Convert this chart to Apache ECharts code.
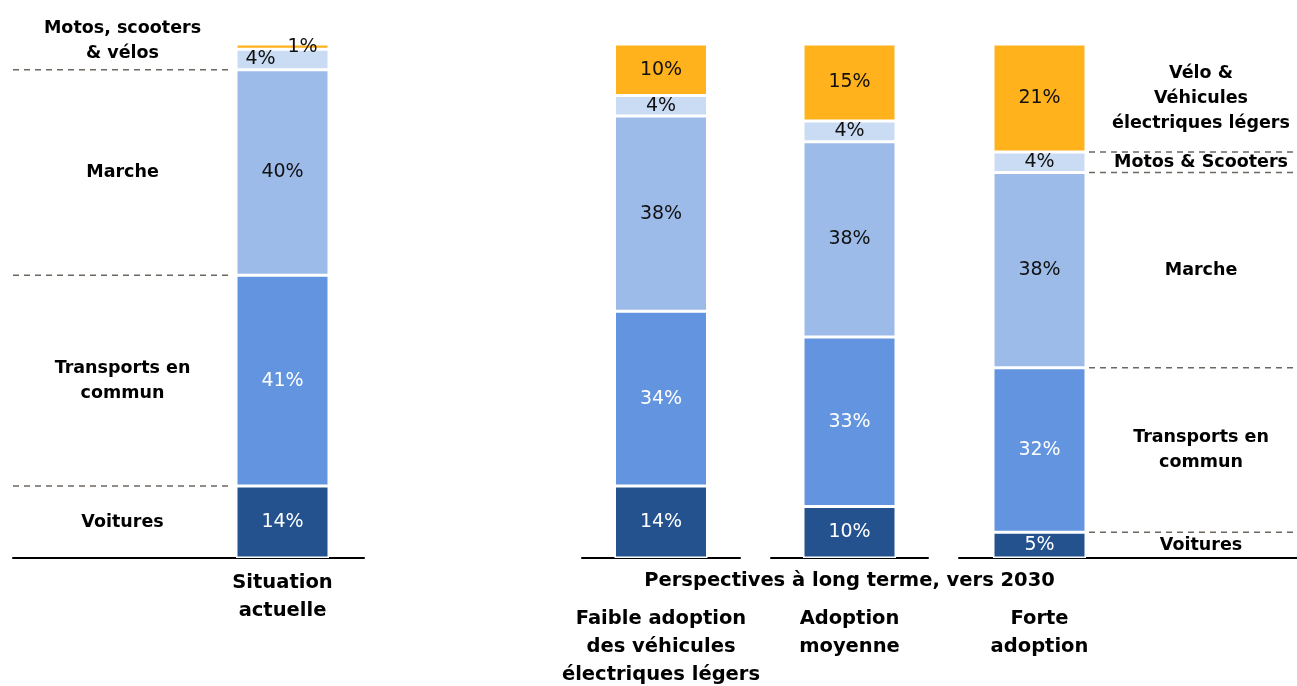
<!DOCTYPE html>
<html>
<head>
<meta charset="utf-8">
<script src="https://cdn.jsdelivr.net/npm/echarts@6/dist/echarts.min.js"></script>
<style>
  html, body { margin: 0; padding: 0; background: #fff; }
  #chart { width: 1297px; height: 686px; }
</style>
</head>
<body>
<div id="chart"></div>
<script>
// Modal share per scenario (% of trips), stacked bottom to top
const scenarios = ['Situation\nactuelle', 'Faible adoption\ndes véhicules\nélectriques légers', 'Adoption\nmoyenne', 'Forte\nadoption'];
const voitures   = [14, 14, 10, 5];
const transports = [41, 34, 33, 32];
const marche     = [40, 38, 38, 38];
const motos      = [4, 4, 4, 4];
const velos      = [1, 10, 15, 21];
const segmentNames = ['Voitures', 'Transports en commun', 'Marche', 'Motos & Scooters', 'Vélo & Véhicules électriques légers'];

// Side legends: left describes the current situation, right the strong-adoption scenario
const leftLabels  = ['Voitures', 'Transports en\ncommun', 'Marche', 'Motos, scooters\n& vélos'];
const rightLabels = ['Voitures', 'Transports en\ncommun', 'Marche', 'Motos & Scooters', 'Vélo &\nVéhicules\nélectriques légers'];
const groupTitle  = 'Perspectives à long terme, vers 2030';

const segments = [voitures, transports, marche, motos, velos];
const colors = ['#23528F', '#6294DF', '#9CBBE9', '#CADBF4', '#FFB21B'];
const labelColors = ['#fff', '#fff', '#111', '#111', '#111'];
const FONT = 'DejaVu Sans';

// label nudges for the thin top segments of the first bar
const labelOffsets = { '0-3': [-22, 0], '0-4': [20, 0] };

const chart = echarts.init(document.getElementById('chart'));

const TOP = 44, HEIGHT = 514;
const gridDefs = [
  { left: 201, width: 163 },   // situation actuelle
  { left: 582, width: 158 },
  { left: 771, width: 157 },
  { left: 959, width: 161 },
  { left: 13, width: 219 },    // left legend
  { left: 1105, width: 192 }   // right legend
];
const grids = gridDefs.map(g => ({ left: g.left, width: g.width, top: TOP, height: HEIGHT, outerBoundsMode: 'none' }));

const axisLine = { show: true, lineStyle: { color: '#000', width: 2 } };
const xAxes = gridDefs.map((g, i) => {
  const ax = {
    type: 'category', gridIndex: i,
    data: i < 4 ? [scenarios[i]] : [''],
    axisLine: axisLine, axisTick: { show: false },
    axisLabel: {
      show: i < 4, interval: 0, margin: i === 0 ? 11 : 47,
      fontFamily: FONT, fontWeight: 'bold', fontSize: 19.5, lineHeight: 28, color: '#000'
    }
  };
  if (i === 2) {
    ax.name = groupTitle;
    ax.nameLocation = 'middle';
    ax.nameGap = 13;
    ax.nameMoveOverlap = false;
    ax.nameTextStyle = { fontFamily: FONT, fontWeight: 'bold', fontSize: 19.5, color: '#000', verticalAlign: 'top' };
  }
  return ax;
});
const yAxes = gridDefs.map((g, i) => ({ type: 'value', gridIndex: i, min: 0, max: 100, show: false }));

const series = [];
for (let p = 0; p < 4; p++) {
  segments.forEach((vals, s) => {
    const off = labelOffsets[p + '-' + s];
    series.push({
      type: 'bar', name: segmentNames[s], stack: 'mix' + p,
      xAxisIndex: p, yAxisIndex: p, barWidth: 93,
      itemStyle: { color: colors[s], borderColor: '#fff', borderWidth: 1.5 },
      label: {
        show: true, position: 'inside', formatter: '{c}%',
        fontFamily: FONT, fontSize: 19, color: labelColors[s],
        offset: off || [0, 0]
      },
      data: [vals[p]]
    });
  });
}

// Build legend bands [x, mid, lower, upper, index] from a bar's stacked values
function bands(p, names, merge) {
  const vals = segments.map(v => v[p]);
  const groups = merge ? [[0], [1], [2], [3, 4]] : vals.map((_, i) => [i]);
  let acc = 0;
  return groups.map((g, i) => {
    const lower = acc;
    g.forEach(k => acc += vals[k]);
    return [0, (lower + acc) / 2, lower, acc, i];
  }).slice(0, names.length);
}

function legendSeries(gridIdx, p, names, merge, opts) {
  return {
    type: 'custom', xAxisIndex: gridIdx, yAxisIndex: gridIdx, clip: false, silent: true,
    data: bands(p, names, merge),
    encode: { x: 0, y: 1 },
    renderItem: function (params, api) {
      const cs = params.coordSys;
      const idx = api.value(4);
      const pos = api.coord([0, api.value(1)]);
      const upperY = api.coord([0, api.value(3)])[1];
      const children = [{
        type: 'text',
        style: {
          x: pos[0] + opts.dx, y: pos[1] + (opts.dy[idx] || 0),
          text: names[idx], align: 'center', verticalAlign: 'middle',
          fontFamily: FONT, fontWeight: 'bold', fontSize: 17.5, lineHeight: 25, fill: '#000'
        }
      }];
      if (api.value(3) < 100) {
        children.push({
          type: 'line',
          shape: { x1: cs.x + opts.x0, y1: upperY, x2: cs.x + cs.width + opts.x1, y2: upperY },
          style: { stroke: '#6d6762', lineWidth: 1.5, lineDash: [6, 5] }
        });
      }
      return { type: 'group', children: children };
    }
  };
}

series.push(legendSeries(4, 0, leftLabels, true, { dx: 0, dy: { 3: -16 }, x0: 0, x1: -4 }));
series.push(legendSeries(5, 3, rightLabels, false, { dx: 0, dy: {}, x0: -16, x1: -4 }));

chart.setOption({
  animation: false,
  backgroundColor: '#fff',
  grid: grids,
  xAxis: xAxes,
  yAxis: yAxes,
  series: series
});
</script>
</body>
</html>
